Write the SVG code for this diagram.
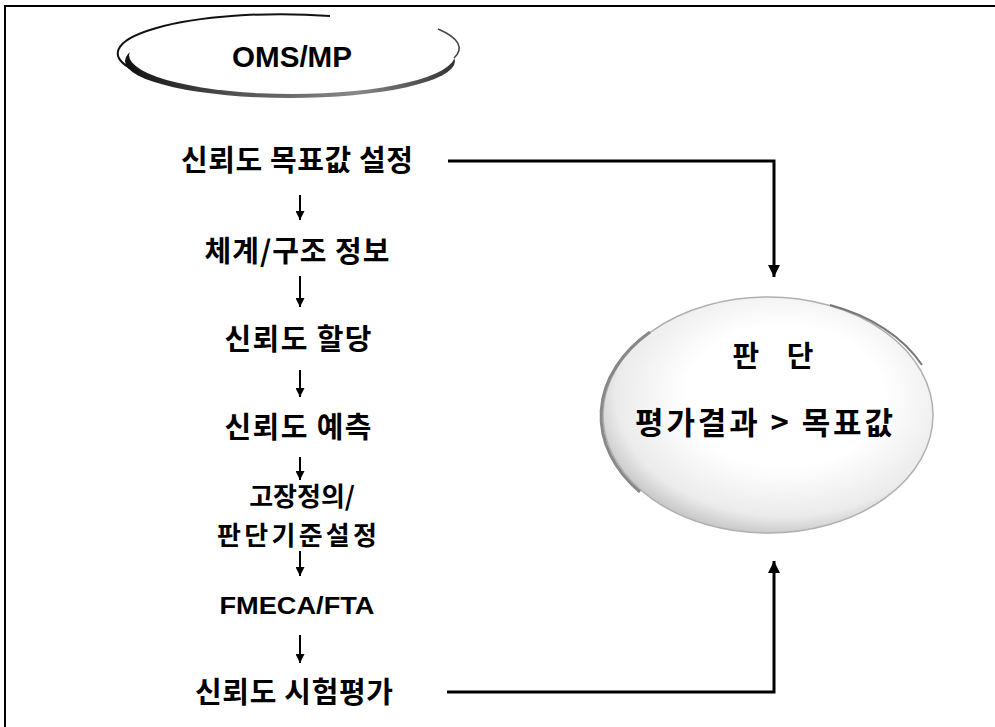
<svg xmlns="http://www.w3.org/2000/svg" width="995" height="727" viewBox="0 0 995 727">
<defs>
<style>
.t{font-family:"Noto Sans CJK KR","Noto Sans",sans-serif;font-weight:bold;font-size:29px;fill:#000;text-anchor:middle}
.e{font-family:"Liberation Sans",Arial,sans-serif;font-weight:bold;fill:#000;text-anchor:middle}
.ln{stroke:#000;stroke-width:2;fill:none}
.cn{stroke:#000;stroke-width:3;fill:none}
</style>
<marker id="ahs" viewBox="0 0 10 10" refX="10" refY="5" markerWidth="9" markerHeight="9" markerUnits="userSpaceOnUse" orient="auto">
<path d="M0,0 L10,5 L0,10 Z" fill="#000"/>
</marker>
<marker id="ahb" viewBox="0 0 10 10" refX="10" refY="5" markerWidth="12" markerHeight="12" markerUnits="userSpaceOnUse" orient="auto">
<path d="M0,0 L10,5 L0,10 Z" fill="#000"/>
</marker>
<radialGradient id="cg" cx="0.55" cy="0.42" r="0.6">
<stop offset="0.5" stop-color="#ffffff"/>
<stop offset="0.85" stop-color="#ebebeb"/>
<stop offset="1" stop-color="#c4c4c4"/>
</radialGradient>
<linearGradient id="sg" x1="0" y1="0" x2="1" y2="0">
<stop offset="0" stop-color="#111"/>
<stop offset="0.35" stop-color="#555"/>
<stop offset="0.7" stop-color="#888"/>
<stop offset="1" stop-color="#333"/>
</linearGradient>
</defs>
<rect width="995" height="727" fill="#fff"/>
<rect x="5" y="6" width="1010" height="740" fill="none" stroke="#000" stroke-width="2"/>

<g id="oms">
<ellipse cx="290" cy="61" rx="165" ry="37" fill="url(#sg)"/>
<ellipse cx="292" cy="55" rx="163" ry="39" fill="#fff"/>
<path d="M138,72 A163,39 0 0 1 330,16" fill="none" stroke="#111" stroke-width="2"/>
<path d="M438,29 A163,39 0 0 1 454,58" fill="none" stroke="#444" stroke-width="1.5"/>
<text class="e" x="292" y="67" style="font-size:29px" textLength="120" lengthAdjust="spacingAndGlyphs">OMS/MP</text>
</g>

<g id="n1"><text class="t" x="297" y="171" textLength="232" lengthAdjust="spacing">신뢰도 목표값 설정</text></g>
<g id="n2"><text class="t" x="297" y="262" textLength="185" lengthAdjust="spacing">체계/구조 정보</text></g>
<g id="n3"><text class="t" x="298" y="350" textLength="147" lengthAdjust="spacing">신뢰도 할당</text></g>
<g id="n4"><text class="t" x="298" y="438" textLength="147" lengthAdjust="spacing">신뢰도 예측</text></g>
<g id="n5"><text class="t" style="font-size:26px"><tspan x="302" y="506">고장정의/</tspan><tspan x="297" y="545" textLength="160" lengthAdjust="spacing">판단기준설정</tspan></text></g>
<g id="n6"><text class="e" x="297" y="614" style="font-size:23px" textLength="155" lengthAdjust="spacingAndGlyphs">FMECA/FTA</text></g>
<g id="n7"><text class="t" x="294" y="703" textLength="198" lengthAdjust="spacing">신뢰도 시험평가</text></g>

<g id="judge">
<ellipse cx="768" cy="415" rx="165" ry="118" fill="url(#cg)" stroke="#b0b0b0" stroke-width="1.5"/>
<path d="M640,492 A165,118 0 0 1 650,332" fill="none" stroke="#888" stroke-width="3"/>
<path d="M830,305 A165,118 0 0 1 922,365" fill="none" stroke="#777" stroke-width="2"/>
<text class="t" x="773" y="367" textLength="81" lengthAdjust="spacing">판 단</text>
<text class="t" x="764" y="434" style="font-size:31px" textLength="258" lengthAdjust="spacing">평가결과 &gt; 목표값</text>
</g>

<g id="connectors">
<line class="ln" x1="300" y1="195" x2="300" y2="220" marker-end="url(#ahs)"/>
<line class="ln" x1="300" y1="276" x2="300" y2="307" marker-end="url(#ahs)"/>
<line class="ln" x1="300" y1="370" x2="300" y2="397" marker-end="url(#ahs)"/>
<line class="ln" x1="300" y1="457" x2="300" y2="480" marker-end="url(#ahs)"/>
<line class="ln" x1="300" y1="551" x2="300" y2="576" marker-end="url(#ahs)"/>
<line class="ln" x1="300" y1="635" x2="300" y2="663" marker-end="url(#ahs)"/>
<polyline class="cn" points="448,161 774,161 774,277" marker-end="url(#ahb)"/>
<polyline class="cn" points="447,692 774,692 774,561" marker-end="url(#ahb)"/>
</g>
</svg>
